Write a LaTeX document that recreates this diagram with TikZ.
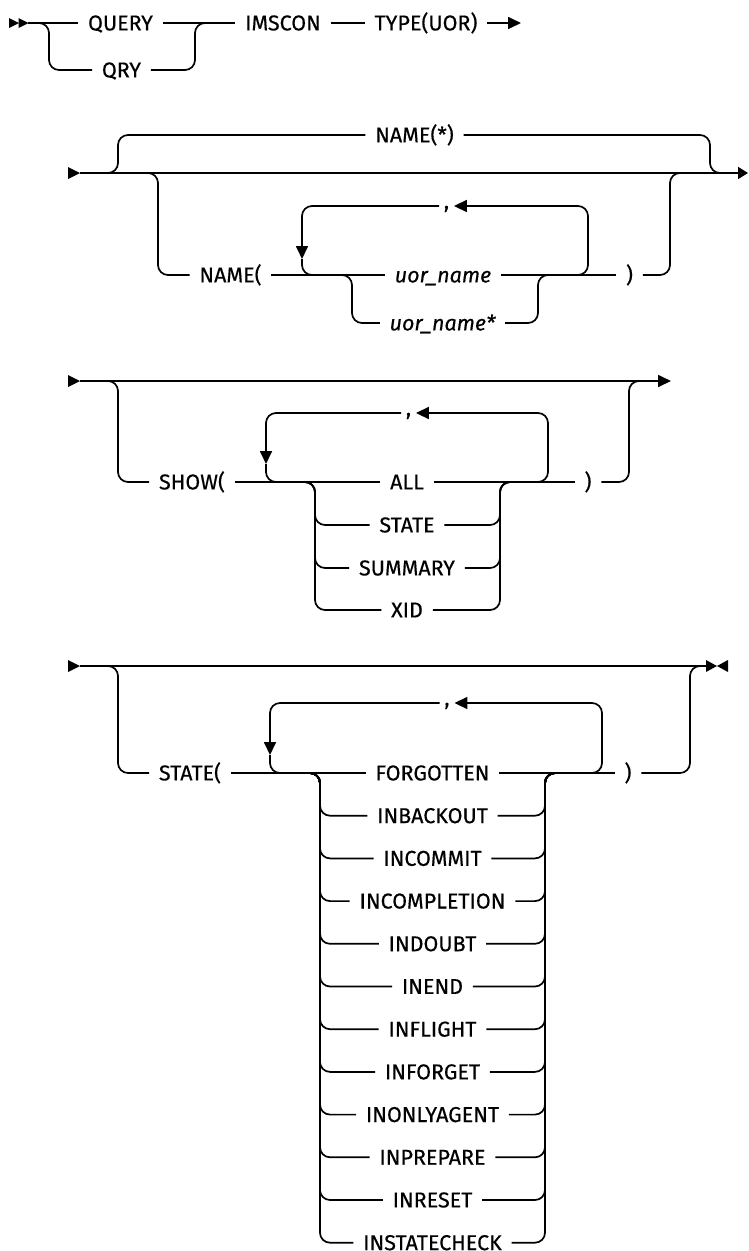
\documentclass[tikz,border=0pt]{standalone}
\usepackage{fontspec}
\setmainfont{Fira Sans}[FakeBold=0.4]
\usetikzlibrary{arrows.meta}
\begin{document}
\begin{tikzpicture}[x=1pt,y=-1pt,line width=1.7pt,
  every node/.style={font=\fontsize{21.5}{21.5}\selectfont,inner xsep=9pt,inner ysep=0pt,text height=14.8pt,text depth=0pt},
  comma/.style={inner xsep=4pt,text height=5pt},
  rc/.style={rounded corners=10pt},
  tip/.style={-{Triangle[length=13pt,width=12pt]}},
  tipend/.style={-{Triangle[length=10pt,width=12pt]}},
  tiploop/.style={-{Triangle[length=13pt,width=12pt]}},
]
\useasboundingbox (0,0) rectangle (748,1251);
% ---------- section 1 ----------
\fill (9,18) -- (19,23) -- (9,28) -- cycle;
\fill (18.5,18) -- (28.5,23) -- (18.5,28) -- cycle;
\coordinate (s1) at (28,23);
\coordinate (e1) at (521,23);
\coordinate (b1l) at (38,23);
\coordinate (b1rv) at (195,23);
\coordinate (b1r) at (205,23);
\node (query) at (120.5,23) {QUERY};
\node (qry) at (121.5,70) {QRY};
\node (imscon) at (283,23) {IMSCON};
\node (type) at (426,23) {TYPE(UOR)};
\draw (s1) -- (query);
\draw (query) -- (imscon);
\draw (imscon) -- (type);
\draw[tip] (type) -- (e1);
\draw[rc] (b1l) -- ++(11,0) |- (qry.west);
\draw[rc] (qry.east) -| (b1rv) -- (b1r);
% ---------- section 2 ----------
\fill (68,167) -- (80,173) -- (68,179) -- cycle;
\coordinate (s2) at (80,173);
\coordinate (e2) at (748,173);
\draw[tipend] (s2) -- (e2);
\node (namestar) at (414.5,135) {NAME(*)};
\coordinate (t2l) at (107,173);
\coordinate (t2rv) at (710,173);
\coordinate (t2r) at (720,173);
\draw[rc] (t2l) -- ++(11,0) |- (namestar.west);
\draw[rc] (namestar.east) -| (t2rv) -- (t2r);
\node (namep) at (230.5,275) {NAME(};
\node (uor) at (443,275) {\itshape uor\_name};
\node (uorstar) at (442.5,323) {\itshape uor\_name*};
\node (rp2) at (629.5,275) {)};
\coordinate (d2l) at (147,173);
\coordinate (d2rv) at (670,173);
\coordinate (d2r) at (680,173);
\draw[rc] (d2l) -- ++(11,0) |- (namep.west);
\draw (namep) -- (uor);
\draw (uor) -- (rp2);
\draw[rc] (rp2.east) -| (d2rv) -- (d2r);
\coordinate (a2l) at (341,275);
\coordinate (a2rv) at (538,275);
\coordinate (a2r) at (548,275);
\draw[rc] (a2l) -- ++(11,0) |- (uorstar.west);
\draw[rc] (uorstar.east) -| (a2rv) -- (a2r);
\node[comma] (c2) at (446.5,206) {,};
\coordinate (l2r) at (577,275);
\coordinate (l2a) at (302,259);
\coordinate (l2b) at (316,275);
\draw[rc,tiploop] (l2r) -- ++(11,0) |- (c2.east);
\draw[rc,tiploop] (c2.west) -| (l2a);
\draw[rc] (l2a) |- (l2b);
% ---------- section 3 ----------
\fill (68,375) -- (80,381) -- (68,387) -- cycle;
\coordinate (s3) at (80,381);
\coordinate (e3) at (671,381);
\draw[tip] (s3) -- (e3);
\node (show) at (192,482) {SHOW(};
\node (all) at (407,482) {ALL};
\node (state) at (407,525) {STATE};
\node (summary) at (407,568) {SUMMARY};
\node (xid) at (407,610) {XID};
\node (rp3) at (588,482) {)};
\coordinate (d3l) at (107,381);
\coordinate (d3rv) at (629,381);
\coordinate (d3r) at (639,381);
\draw[rc] (d3l) -- ++(11,0) |- (show.west);
\draw (show) -- (all);
\draw (all) -- (rp3);
\draw[rc] (rp3.east) -| (d3rv) -- (d3r);
\coordinate (a3l) at (304,482);
\coordinate (a3rv) at (500,482);
\coordinate (a3r) at (510,482);
\foreach \n in {state,summary,xid}{
  \draw[rc] (a3l) -- ++(11,0) |- (\n.west);
  \draw[rc] (\n.east) -| (a3rv) -- (a3r);
}
\node[comma] (c3) at (408.5,413) {,};
\coordinate (l3r) at (537,482);
\coordinate (l3a) at (266,464);
\coordinate (l3b) at (280,482);
\draw[rc,tiploop] (l3r) -- ++(11,0) |- (c3.east);
\draw[rc,tiploop] (c3.west) -| (l3a);
\draw[rc] (l3a) |- (l3b);
% ---------- section 4 ----------
\fill (68,660) -- (80,666) -- (68,672) -- cycle;
\coordinate (s4) at (80,666);
\coordinate (e4) at (706,666);
\draw (s4) -- (e4);
\fill (706,660) -- (717,666) -- (706,672) -- cycle;
\fill (728,660) -- (717,666) -- (728,672) -- cycle;
\node (statep) at (190,773) {STATE(};
\node (rp4) at (628,773) {)};
\coordinate (d4l) at (107,666);
\coordinate (d4rv) at (690,666);
\coordinate (d4r) at (700,666);
\coordinate (a4l) at (309,773);
\coordinate (a4rv) at (545,773);
\coordinate (a4r) at (555,773);
\foreach \t [count=\i from 0] in {FORGOTTEN,INBACKOUT,INCOMMIT,INCOMPLETION,INDOUBT,INEND,INFLIGHT,INFORGET,INONLYAGENT,INPREPARE,INRESET,INSTATECHECK}{
  \node (it\i) at (432.5,773+42.7*\i) {\t};
}
\draw[rc] (d4l) -- ++(11,0) |- (statep.west);
\draw (statep) -- (it0);
\draw (it0) -- (rp4);
\draw[rc] (rp4.east) -| (d4rv) -- (d4r);
\foreach \i in {1,...,11}{
  \draw[rc] (a4l) -- ++(11,0) |- (it\i.west);
  \draw[rc] (it\i.east) -| (a4rv) -- (a4r);
}
\node[comma] (c4) at (447,703) {,};
\coordinate (l4r) at (591,773);
\coordinate (l4a) at (270,755);
\coordinate (l4b) at (284,773);
\draw[rc,tiploop] (l4r) -- ++(11,0) |- (c4.east);
\draw[rc,tiploop] (c4.west) -| (l4a);
\draw[rc] (l4a) |- (l4b);
\end{tikzpicture}
\end{document}
